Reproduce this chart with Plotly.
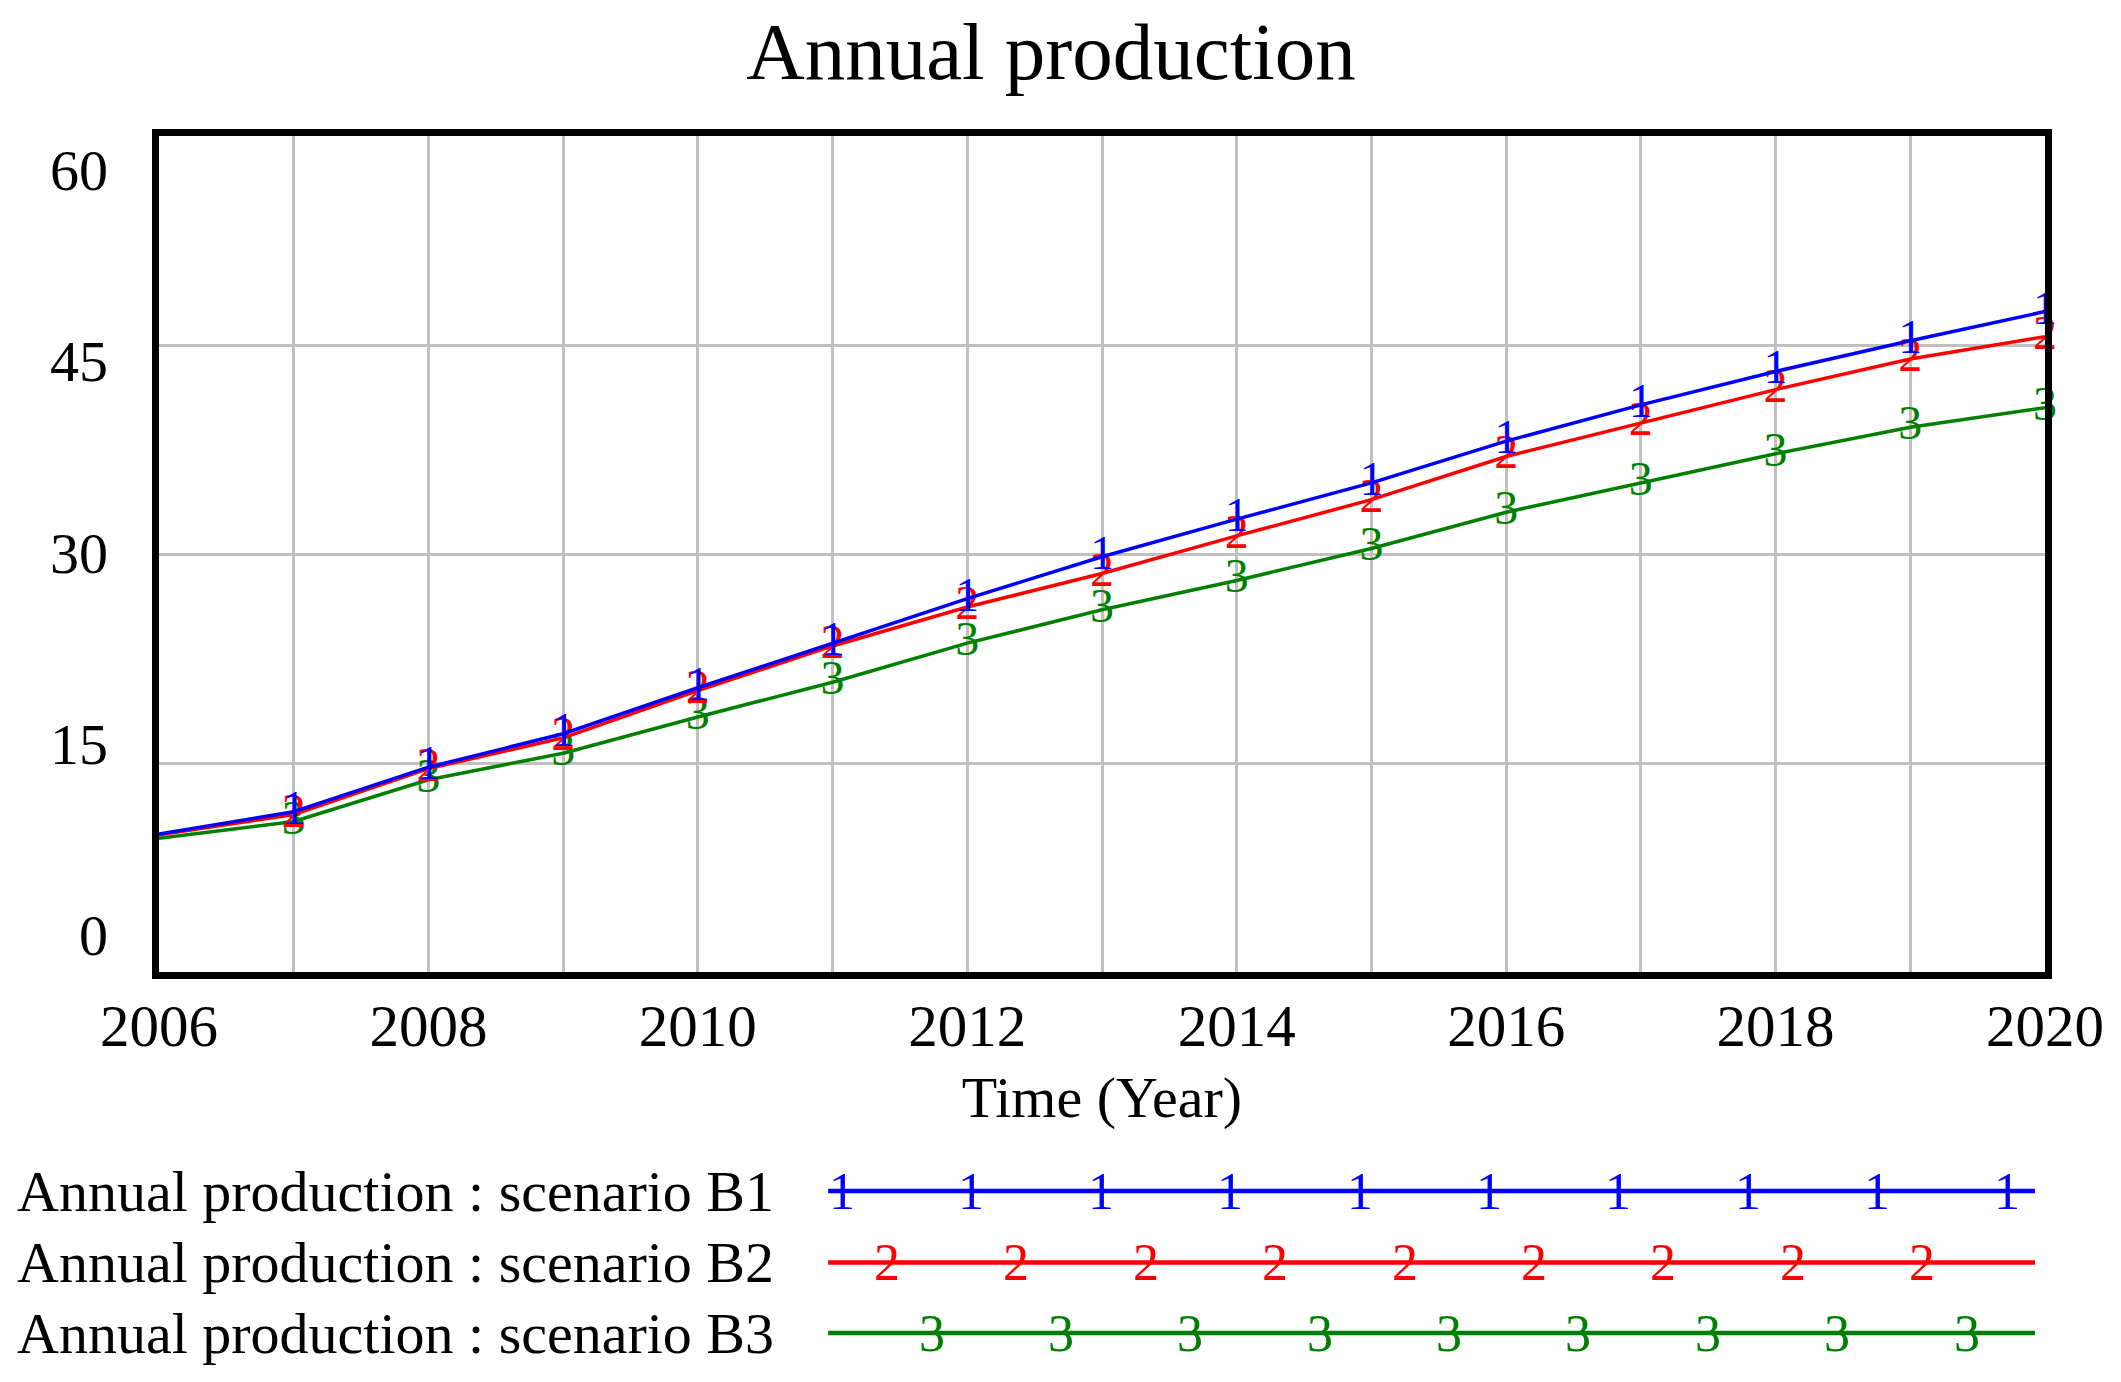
import plotly.graph_objects as go

# ---- data ----
years = list(range(2006, 2021))
b1 = [9.9, 11.5, 14.7, 17.1, 20.4, 23.6, 26.8, 29.8, 32.5, 35.1, 38.1, 40.7, 43.1, 45.3, 47.4]
b2 = [9.85, 11.3, 14.6, 16.8, 20.2, 23.4, 26.2, 28.6, 31.3, 33.9, 37.0, 39.4, 41.8, 44.0, 45.6]
b3 = [9.6, 10.8, 13.8, 15.7, 18.3, 20.8, 23.6, 26.0, 28.1, 30.4, 33.0, 35.1, 37.2, 39.1, 40.5]
series_names = ["Annual production : scenario B1",
                "Annual production : scenario B2",
                "Annual production : scenario B3"]
series_marks = ["1", "2", "3"]
series_values = [b1, b2, b3]
colors = ["#0000FF", "#FF0000", "#008000"]

y_grid_vals = [0, 15, 30, 45, 60]
y_label_vals = [2.7, 16.4, 30.1, 43.9, 57.6]
y_label_text = ["0", "15", "30", "45", "60"]
x_label_text = [str(y) if (y - 2006) % 2 == 0 else "" for y in years]

FONT = "Liberation Serif"

fig = go.Figure()

# draw B3, B2, then B1 on top
for name, mark, vals, col in reversed(list(zip(series_names, series_marks, series_values, colors))):
    fig.add_trace(go.Scatter(
        x=years, y=vals, name=name,
        mode="lines+text",
        text=[""] + [mark] * (len(years) - 1),
        textposition="middle center",
        textfont=dict(family=FONT, size=48, color=col),
        line=dict(color=col, width=3.5),
        cliponaxis=False, showlegend=False, hoverinfo="x+y+name",
    ))

# invisible trace so the label axis is drawn
fig.add_trace(go.Scatter(x=[years[0]], y=[0], yaxis="y2", mode="markers",
                         marker=dict(opacity=0), hoverinfo="skip", showlegend=False))

# ---- hand-made legend below the plot ----
legend_y = [-0.262, -0.3476, -0.4319]
legend_first = [0.3622, 0.386, 0.4096]
legend_counts = [10, 9, 9]
legend_step = 0.0686
for i, (name, mark, col) in enumerate(zip(series_names, series_marks, colors)):
    fig.add_annotation(xref="paper", yref="paper", x=-0.0764, y=legend_y[i],
                       text=name, showarrow=False, xanchor="left", yanchor="middle",
                       font=dict(family=FONT, size=58, color="black"))
    fig.add_shape(type="line", xref="paper", yref="paper",
                  x0=0.3548, x1=0.9947, y0=legend_y[i], y1=legend_y[i],
                  line=dict(color=col, width=4.5))
    for k in range(legend_counts[i]):
        fig.add_annotation(xref="paper", yref="paper",
                           x=legend_first[i] + k * legend_step, y=legend_y[i],
                           text=mark, showarrow=False, xanchor="center", yanchor="middle",
                           font=dict(family=FONT, size=52, color=col))

fig.update_layout(
    width=2113, height=1374,
    margin=dict(l=151, r=76, t=128, b=410, pad=0),
    paper_bgcolor="white", plot_bgcolor="white",
    title=dict(text="Annual production", x=0.4936, xref="container", xanchor="center",
               y=0.969, yref="container", yanchor="middle",
               font=dict(family=FONT, size=81, color="black")),
    xaxis=dict(range=[2006, 2020], tickvals=years, ticktext=x_label_text,
               showgrid=True, gridcolor="#C0C0C0", gridwidth=3,
               showline=True, mirror=True, linecolor="black", linewidth=7,
               ticks="", zeroline=False, ticklabelstandoff=-4,
               tickfont=dict(family=FONT, size=59, color="black"),
               title=dict(text="Time (Year)", standoff=21,
                          font=dict(family=FONT, size=58, color="black"))),
    yaxis=dict(range=[0, 60], tickvals=y_grid_vals, showticklabels=False,
               showgrid=True, gridcolor="#C0C0C0", gridwidth=3,
               showline=True, mirror=True, linecolor="black", linewidth=7,
               ticks="", zeroline=False),
    yaxis2=dict(range=[0, 60], overlaying="y", side="left",
                tickvals=y_label_vals, ticktext=y_label_text,
                showgrid=False, showline=False, zeroline=False, ticks="",
                ticklabelstandoff=50,
                tickfont=dict(family=FONT, size=58, color="black")),
)

fig.write_html("out.html")
